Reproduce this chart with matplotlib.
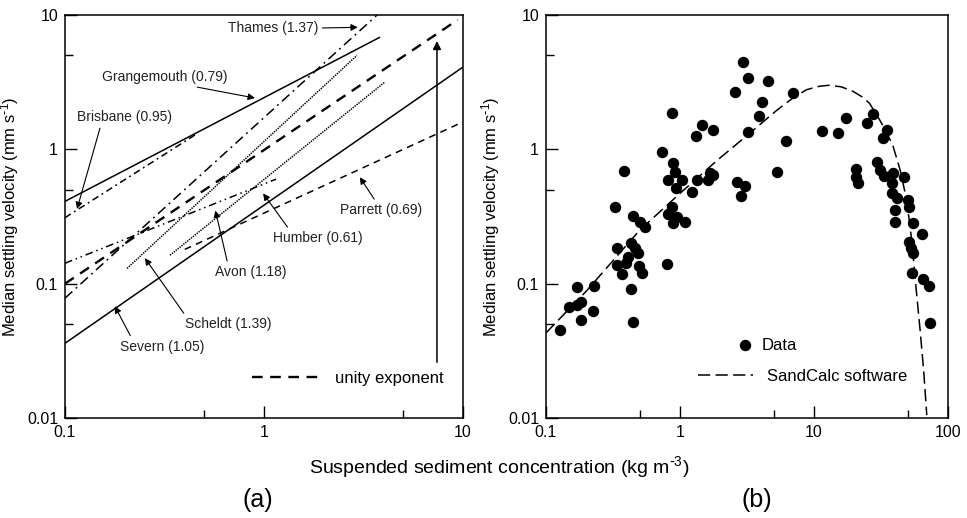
import numpy as np
import matplotlib
matplotlib.use("Agg")
import matplotlib.pyplot as plt
from matplotlib.ticker import LogLocator, NullFormatter, FixedLocator, FixedFormatter

plt.rcParams['font.family'] = ['Liberation Sans', 'DejaVu Sans']
plt.rcParams['mathtext.default'] = 'regular'

# ---------------- panel (a): fitted lines per estuary (end points)
estuaries = ["Grangemouth", "Brisbane", "Thames", "Parrett", "Humber", "Avon", "Scheldt", "Severn"]
exponents = [0.79, 0.95, 1.37, 0.69, 0.61, 1.18, 1.39, 1.05]
conc_start = [0.1, 0.1, 0.1, 0.4, 0.1, 0.337, 0.205, 0.1]
conc_end = [3.8, 0.45, 3.7, 10.0, 1.15, 4.05, 2.93, 10.0]
ws_start = [0.41, 0.31, 0.078, 0.18, 0.142, 0.163, 0.13, 0.036]
ws_end = [6.8, 1.28, 10.0, 1.6, 0.6, 3.17, 5.0, 4.1]

unity_conc = [0.1, 9.4]
unity_ws = [0.1, 9.2]

# ---------------- panel (b): measured data and SandCalc curve
conc_data = [0.127, 0.149, 0.169, 0.169, 0.184, 0.184, 0.228, 0.223, 0.340, 0.340, 0.367,
             0.429, 0.461, 0.489, 0.411, 0.395, 0.429, 0.448, 0.497, 0.523, 0.796,
             0.327, 0.382, 0.448, 0.502, 0.548, 0.73, 0.867, 0.891, 0.918, 0.819, 1.03,
             0.933, 0.867, 0.819, 0.944, 0.891, 1.09, 1.22, 1.33, 1.67, 1.62, 1.76, 1.31,
             1.47, 1.77, 2.57, 2.94, 3.24, 4.55, 4.07, 3.91, 3.24, 2.65, 3.06, 2.84, 5.27,
             7.0, 6.19, 11.4, 15.2, 17.2, 20.6, 20.6, 21.4, 25.0, 27.4, 34.8, 32.9, 29.4,
             31.1, 33.3, 39.1, 38.4, 38.0, 41.4, 40.2, 40.2, 47.0, 50.0, 51.5, 54.6, 63.7,
             51.5, 52.6, 54.6, 53.6, 64.8, 72.4, 73.4]
ws_data = [0.045, 0.067, 0.094, 0.069, 0.073, 0.054, 0.096, 0.0625, 0.183, 0.138, 0.118,
           0.20, 0.183, 0.168, 0.158, 0.142, 0.091, 0.052, 0.135, 0.12, 0.139,
           0.374, 0.693, 0.318, 0.289, 0.265, 0.96, 1.85, 0.787, 0.681, 0.59, 0.59,
           0.513, 0.374, 0.33, 0.315, 0.281, 0.286, 0.483, 0.59, 0.662, 0.59, 0.644, 1.26,
           1.51, 1.39, 2.66, 4.49, 3.38, 3.24, 2.24, 1.78, 1.35, 0.574, 0.533, 0.449, 0.681,
           2.61, 1.15, 1.37, 1.33, 1.70, 0.71, 0.625, 0.558, 1.56, 1.83, 1.39, 1.21, 0.81,
           0.70, 0.63, 0.662, 0.558, 0.47, 0.431, 0.353, 0.289, 0.62, 0.419, 0.374, 0.284, 0.235,
           0.205, 0.183, 0.17, 0.12, 0.109, 0.096, 0.051]

sandcalc_conc = [0.1, 0.2, 0.5, 1.0, 1.9, 3.2, 5.3, 7.0, 8.8, 11, 13, 16, 19.6, 23, 26, 31,
                 35, 39, 44, 48, 51, 54, 56, 59, 62, 66, 69.5]
sandcalc_ws = [0.043, 0.088, 0.25, 0.47, 0.83, 1.28, 1.96, 2.42, 2.78, 2.95, 3.0, 2.92, 2.7,
               2.45, 2.2, 1.65, 1.33, 1.05, 0.70, 0.47, 0.315, 0.2, 0.13, 0.075, 0.045,
               0.022, 0.0105]

# line styles for the estuaries (linestyle, linewidth)
styles = {
    "Grangemouth": ("-", 1.1),
    "Brisbane": ((0, (4.5, 2.5, 1.2, 2.5)), 1.1),
    "Thames": ((0, (6.5, 3, 1.2, 3)), 1.1),
    "Parrett": ((0, (4.5, 3.5)), 1.1),
    "Humber": ((0, (5, 2.5, 1, 2.5, 1, 2.5)), 1.1),
    "Avon": ((0, (0.9, 0.7)), 1.1),
    "Scheldt": ((0, (0.9, 0.7)), 1.1),
    "Severn": ("-", 1.1),
}

# label text position, arrow head, and where the arrow leaves the text
labels = {
    "Thames": ((1.11, 8.0), (2.96, 8.1), (1.0, 0.5)),
    "Grangemouth": ((0.318, 3.45), (0.90, 2.41), (0.63, 0.0)),
    "Brisbane": ((0.2, 1.74), (0.115, 0.36), (0.25, 0.0)),
    "Parrett": ((3.87, 0.353), (3.03, 0.62), (0.45, 1.0)),
    "Humber": ((1.87, 0.219), (0.99, 0.47), (0.19, 1.0)),
    "Avon": ((0.86, 0.122), (0.57, 0.35), (0.18, 1.0)),
    "Scheldt": ((0.66, 0.05), (0.252, 0.155), (0.02, 1.0)),
    "Severn": ((0.307, 0.034), (0.178, 0.068), (0.15, 1.0)),
}

fig = plt.figure(figsize=(9.67, 5.18), dpi=100)
ax1 = fig.add_axes([0.0672, 0.193, 0.4116, 0.778])
ax2 = fig.add_axes([0.5646, 0.193, 0.4157, 0.778])


def style_axis(ax, xmax, xticks):
    ax.set_xscale('log')
    ax.set_yscale('log')
    ax.set_xlim(0.1, xmax)
    ax.set_ylim(0.01, 10)
    ax.xaxis.set_major_locator(FixedLocator(xticks))
    ax.xaxis.set_major_formatter(FixedFormatter([f"{t:g}" for t in xticks]))
    ax.xaxis.set_minor_locator(LogLocator(base=10, subs=[5]))
    ax.xaxis.set_minor_formatter(NullFormatter())
    yt = [0.01, 0.1, 1, 10]
    ax.yaxis.set_major_locator(FixedLocator(yt))
    ax.yaxis.set_major_formatter(FixedFormatter(["0.01", "0.1", "1", "10"]))
    ax.yaxis.set_minor_locator(LogLocator(base=10, subs=[5]))
    ax.yaxis.set_minor_formatter(NullFormatter())
    ax.tick_params(which='major', direction='in', length=8.5, width=1.0, labelsize=11.5, pad=5)
    ax.tick_params(which='minor', direction='in', length=5.5, width=1.0)
    for sp in ax.spines.values():
        sp.set_linewidth(1.1)
    ax.set_ylabel(r"Median settling velocity (mm s$^{\text{-}1}$)", fontsize=12, labelpad=4)


# ---- (a)
style_axis(ax1, 10, [0.1, 1, 10])
for i, name in enumerate(estuaries):
    ls, lw = styles[name]
    ax1.plot([conc_start[i], conc_end[i]], [ws_start[i], ws_end[i]], color='k', ls=ls, lw=lw)
ax1.plot(unity_conc, unity_ws, color='k', lw=1.7, ls=(0, (4.5, 3.2)), label="unity exponent")

for i, name in enumerate(estuaries):
    txt, head, rel = labels[name]
    ax1.annotate(f"{name} ({exponents[i]:.2f})", xy=head, xytext=txt,
                 ha='center', va='center', fontsize=10, color='#222222',
                 arrowprops=dict(arrowstyle='-|>', color='k', lw=0.8, mutation_scale=10,
                                 relpos=rel, shrinkA=1, shrinkB=0))

ax1.annotate("", xy=(7.4, 6.4), xytext=(7.4, 0.026),
             arrowprops=dict(arrowstyle='-|>', color='k', lw=1.1, mutation_scale=12,
                             shrinkA=0, shrinkB=0))
ax1.legend(loc='center right', bbox_to_anchor=(0.99, 0.099), frameon=False,
           fontsize=12, handlelength=4.2, handletextpad=0.8)

# ---- (b)
style_axis(ax2, 100, [0.1, 1, 10, 100])
ax2.plot(sandcalc_conc, sandcalc_ws, color='k', lw=1.1, ls=(0, (8, 3.5)),
         label="SandCalc software")
ax2.plot(conc_data, ws_data, 'o', color='k', ms=7.2, mec='k', label="Data")

h, l = ax2.get_legend_handles_labels()
leg1 = ax2.legend([h[1]], [l[1]], loc='center left', bbox_to_anchor=(0.438, 0.179),
                  frameon=False, fontsize=12, handlelength=1.0, handletextpad=0.48,
                  numpoints=1)
ax2.add_artist(leg1)
ax2.legend([h[0]], [l[0]], loc='center right', bbox_to_anchor=(0.935, 0.1025),
           frameon=False, fontsize=12, handlelength=3.3, handletextpad=0.8)

fig.text(0.516, 1 - 467 / 518, r"Suspended sediment concentration (kg m$^{\text{-}3}$)",
         ha='center', va='center', fontsize=14)
fig.text(258 / 967, 1 - 500 / 518, "(a)", ha='center', va='center', fontsize=18)
fig.text(757 / 967, 1 - 500 / 518, "(b)", ha='center', va='center', fontsize=18)

fig.savefig("out.png", dpi=100)
